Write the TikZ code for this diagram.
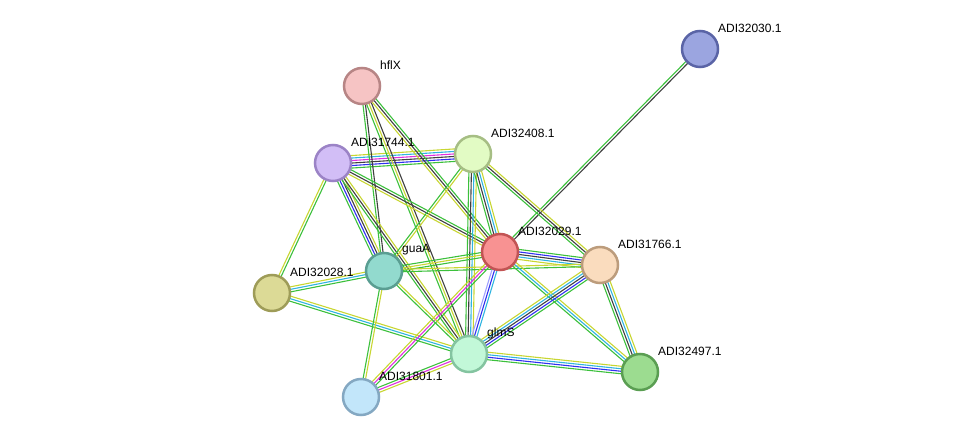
\documentclass[tikz,border=0pt]{standalone}
\usepackage{fontspec}
\setmainfont{Liberation Sans}
\usepackage{tikz}
\usetikzlibrary{calc}
\usetikzlibrary{backgrounds}
\usetikzlibrary{positioning}
\definecolor{sgreen}{HTML}{3CC03C}
\definecolor{syellow}{HTML}{C8D632}
\definecolor{sblack}{HTML}{404040}
\definecolor{sblue}{HTML}{3030F0}
\definecolor{scyan}{HTML}{30B4E0}
\definecolor{smagenta}{HTML}{E030E0}
\definecolor{slav}{HTML}{A0A0FF}
\definecolor{f32030}{HTML}{9BA5E0}\definecolor{d32030}{HTML}{5A64A6}
\definecolor{fhflx}{HTML}{F6C4C4}\definecolor{dhflx}{HTML}{B78585}
\definecolor{f31744}{HTML}{D2BEF6}\definecolor{d31744}{HTML}{9B83C6}
\definecolor{f32408}{HTML}{E2FBC4}\definecolor{d32408}{HTML}{A6BE84}
\definecolor{f32029}{HTML}{F89292}\definecolor{d32029}{HTML}{C25454}
\definecolor{f31766}{HTML}{FADCBE}\definecolor{d31766}{HTML}{BC9C7C}
\definecolor{fguaa}{HTML}{92DACE}\definecolor{dguaa}{HTML}{5A9E92}
\definecolor{f32028}{HTML}{DCDA96}\definecolor{d32028}{HTML}{9E9C58}
\definecolor{fglms}{HTML}{C2F8D8}\definecolor{dglms}{HTML}{84C4A0}
\definecolor{f32497}{HTML}{9CDC90}\definecolor{d32497}{HTML}{5A9E52}
\definecolor{f31801}{HTML}{C2E6FA}\definecolor{d31801}{HTML}{84A8C2}
\tikzset{prot/.style = {circle, minimum size=36pt, inner sep=0, line width=2.5pt,
                        fill=f#1, draw=d#1}}
\tikzset{lbl/.style = {anchor=west, inner sep=0, font=\fontsize{12}{14}\selectfont}}
\tikzset{strand/.style = {line width=1.1pt}}
\newcommand{\evidence}[3]{%
  \foreach \col [count=\i] in {#3} {\xdef\nstr{\i}}%
  \foreach \col [count=\i] in {#3} {%
    \pgfmathsetmacro{\off}{(\i-(\nstr+1)/2)*2.5}%
    \draw [strand, \col] ($(#1)!\off pt!90:(#2)$) -- ($(#2)!\off pt!-90:(#1)$);
  }}

\begin{document}
\begin{tikzpicture}[x=1pt, y=-1pt]
    \useasboundingbox (0, 0) rectangle (976, 443);

    \node [prot=32030] (a32030) at (700, 49) {};
    \node [prot=hflx] (hflx) at (362, 86) {};
    \node [prot=31744] (a31744) at (333, 163) {};
    \node [prot=32408] (a32408) at (473, 154) {};
    \node [prot=32029] (a32029) at (500, 252) {};
    \node [prot=31766] (a31766) at (600, 265) {};
    \node [prot=guaa] (guaa) at (384, 271) {};
    \node [prot=32028] (a32028) at (272, 293) {};
    \node [prot=glms] (glms) at (469, 354) {};
    \node [prot=32497] (a32497) at (640, 372) {};
    \node [prot=31801] (a31801) at (361, 397) {};

    \begin{scope}[on background layer]
      \evidence{a32030}{a32029}{sgreen,sblack}
      \evidence{a31744}{a32408}{sgreen,sblue,sblack,smagenta,scyan,syellow}
      \evidence{hflx}{guaa}{sgreen,sblack}
      \evidence{hflx}{glms}{sgreen,syellow,sblack}
      \evidence{hflx}{a32029}{syellow,sblack,sgreen}
      \evidence{a31744}{a32029}{syellow,sblack,sgreen}
      \evidence{a31744}{guaa}{sgreen,sblue,sblack,syellow}
      \evidence{a31744}{glms}{sgreen,sblack,syellow}
      \evidence{a31744}{a32028}{syellow,sgreen}
      \evidence{a32408}{guaa}{sgreen,syellow}
      \evidence{a32408}{glms}{sgreen,sblack,scyan,syellow}
      \evidence{a32408}{a32029}{sgreen,sblack,scyan,syellow}
      \evidence{a32408}{a31766}{sgreen,sblack,syellow}
      \evidence{a32029}{a31766}{syellow,scyan,sblack,sblue,sgreen}
      \evidence{guaa}{a32029}{sgreen,syellow,sgreen}
      \evidence{guaa}{a31766}{sgreen,syellow}
      \evidence{a32028}{guaa}{sgreen,scyan,syellow}
      \evidence{a32028}{glms}{sgreen,scyan,syellow}
      \evidence{a32029}{glms}{slav,sblue,scyan}
      \evidence{a31801}{a32029}{sgreen,smagenta,syellow}
      \evidence{a31801}{glms}{syellow,smagenta,sgreen}
      \evidence{a31801}{guaa}{syellow,sgreen}
      \evidence{guaa}{glms}{sgreen,syellow}
      \evidence{a32029}{a32497}{sgreen,scyan,syellow}
      \evidence{a31766}{a32497}{sgreen,sblack,scyan,syellow}
      \evidence{glms}{a32497}{sgreen,sblue,scyan,syellow}
      \evidence{glms}{a31766}{sgreen,sblue,sblack,scyan,syellow}
    \end{scope}

    \node [lbl] (t32030) at ([shift={(18, -21)}]a32030.center) {ADI32030.1};
    \node [lbl] (thflx) at ([shift={(18, -21)}]hflx.center) {hflX};
    \node [lbl] (t31744) at ([shift={(18, -21)}]a31744.center) {ADI31744.1};
    \node [lbl] (t32408) at ([shift={(18, -21)}]a32408.center) {ADI32408.1};
    \node [lbl] (t32029) at ([shift={(18, -21)}]a32029.center) {ADI32029.1};
    \node [lbl] (t31766) at ([shift={(18, -21)}]a31766.center) {ADI31766.1};
    \node [lbl] (tguaa) at ([shift={(18, -21)}]guaa.center) {guaA};
    \node [lbl] (t32028) at ([shift={(18, -21)}]a32028.center) {ADI32028.1};
    \node [lbl] (tglms) at ([shift={(18, -21)}]glms.center) {glmS};
    \node [lbl] (t32497) at ([shift={(18, -21)}]a32497.center) {ADI32497.1};
    \node [lbl] (t31801) at ([shift={(18, -21)}]a31801.center) {ADI31801.1};
  \end{tikzpicture}
\end{document}
